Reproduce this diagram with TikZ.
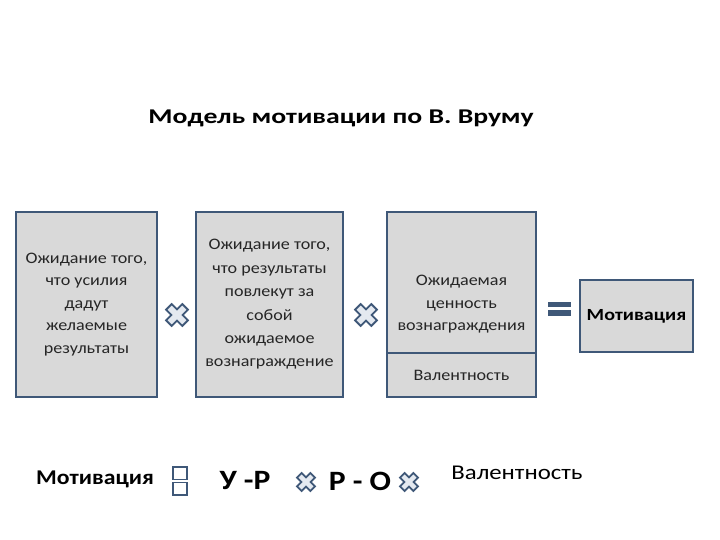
\documentclass[tikz,border=0pt]{standalone}
\usepackage{fontspec}
\setmainfont{Carlito}
\newfontfamily\titlefont[FakeStretch=1.32]{Carlito}
\newfontfamily\widefont[FakeStretch=1.13]{Carlito}
\newfontfamily\widerfont[FakeStretch=1.18]{Carlito}
\usepackage{xcolor}
\usepackage{tikz}
\usetikzlibrary{positioning}

\definecolor{boxfill}{HTML}{D9D9D9}
\definecolor{boxline}{HTML}{3F5878}
\definecolor{signfill}{HTML}{E4E9F0}

\begin{document}
\begin{tikzpicture}[x=1pt, y=-1pt,
        box/.style={draw=boxline, line width=1.6pt, fill=boxfill, align=center,
                    minimum width=141pt, minimum height=185pt, inner sep=2pt,
                    font=\widefont\fontsize{16}{22.5}\selectfont, text=black!85},
        bigtxt/.style={font=\widefont\bfseries\fontsize{28}{30}\selectfont},
        mult/.pic={
            \draw[boxline, fill=signfill, line width=1.8pt, rotate=45, scale=#1]
                (4,11.5) -- (4,4) -- (11.5,4) -- (11.5,-4) -- (4,-4) -- (4,-11.5)
                -- (-4,-11.5) -- (-4,-4) -- (-11.5,-4) -- (-11.5,4) -- (-4,4)
                -- (-4,11.5) -- cycle;
        },
        eqsign/.pic={
            \fill[boxline] (-11.5,-7) rectangle (11.5,-1.5);
            \fill[boxline] (-11.5,1.5) rectangle (11.5,7);
        },
        eqopen/.pic={
            \draw[boxline, line width=1.2pt] (-7,-14) rectangle (7,-1.5);
            \draw[boxline, line width=1.2pt] (-7,1.5) rectangle (7,14);
        }
    ]
    \useasboundingbox (0,0) rectangle (720,540);

    % title
    \node[font=\titlefont\bfseries\fontsize{21}{26}\selectfont] (title) at (341,118)
        {Модель мотивации по В. Вруму};

    % upper row
    \node[box] (effort) at (86.5,304.5)
        {Ожидание того,\\что усилия\\дадут\\желаемые\\результаты};
    \node[box, minimum width=147pt, font=\widefont\fontsize{16}{23.4}\selectfont] (result) at (269.5,304.5)
        {Ожидание того,\\что результаты\\повлекут за\\собой\\ожидаемое\\вознаграждение};
    \node[box, minimum width=149pt] (value) at (461.5,304.5)
        {Ожидаемая\\ценность\\вознаграждения};
    \node[box, minimum width=149pt, minimum height=44pt, anchor=south] (valence)
        at (value.south) {Валентность};
    \node[box, minimum width=113pt, minimum height=72pt,
          font=\widerfont\bfseries\fontsize{17}{20}\selectfont, text=black]
        (motiv) at (636.5,316) {Мотивация};

    \pic at (177,315) {mult=1};
    \pic at (366,315) {mult=1};
    \pic at (559,308.5) {eqsign};

    % formula
    \node[font=\widefont\bfseries\fontsize{21}{24}\selectfont] (fmotiv) at (95,479) {Мотивация};
    \pic at (180,481) {eqopen};
    \node[bigtxt] (ur) at (245,481) {У -Р};
    \pic at (306,482) {mult=0.82};
    \node[bigtxt] (ro) at (360,481) {Р - О};
    \pic at (409,482) {mult=0.82};
    \node[font=\widerfont\fontsize{21}{24}\selectfont, text=black] (fval) at (517,473) {Валентность};
\end{tikzpicture}
\end{document}
